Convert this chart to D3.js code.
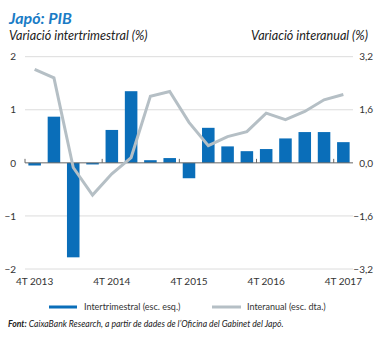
<!DOCTYPE html>
<html>
<head>
<meta charset="utf-8">
<script src="https://cdn.jsdelivr.net/npm/d3@7"></script>
<style>
  body { margin: 0; background: #fff; }
  svg { display: block; font-family: Lato, "Open Sans", sans-serif; }
</style>
</head>
<body>
<div id="chart"></div>
<script>
// Quarters (4T = fourth quarter)
const quarters = [
    '4T 2013', '1T 2014', '2T 2014', '3T 2014',
    '4T 2014', '1T 2015', '2T 2015', '3T 2015',
    '4T 2015', '1T 2016', '2T 2016', '3T 2016',
    '4T 2016', '1T 2017', '2T 2017', '3T 2017', '4T 2017'
];
// quarter-on-quarter change (%), left scale
const intertrimestral = [
    -0.05, 0.87, -1.78, -0.03, 0.62, 1.35, 0.05, 0.09,
    -0.29, 0.66, 0.31, 0.22, 0.26, 0.46, 0.58, 0.58, 0.39
];
// year-on-year change (%), right scale
const interanual = [
    2.82, 2.56, -0.14, -0.97, -0.33, 0.16, 2.01, 2.15,
    1.22, 0.52, 0.79, 0.94, 1.50, 1.30, 1.55, 1.90, 2.06
];
const leftTicks = [-2, -1, 0, 1, 2];
const rightTicks = [-3.2, -1.6, 0, 1.6, 3.2];
const xTickLabels = ['4T 2013', '4T 2014', '4T 2015', '4T 2016', '4T 2017'];

const width = 381;
const height = 338;
const blue = '#0a6eb9';
const grey = '#b5bfc5';
const fmt = d3.format('.1f');

const svg = d3.select('#chart')
  .append('svg')
    .attr('width', width)
    .attr('height', height);

const xScale = d3.scaleBand()
    .domain(quarters)
    .range([25, 353])
    .paddingInner(0.35)
    .paddingOuter(0.175);

const yLeft = d3.scaleLinear()
    .domain([-2, 2])
    .range([269, 56.7]);

const yRight = d3.scaleLinear()
    .domain([-3.2, 3.2])
    .range([269, 56.7]);

// titles
svg.append('text')
    .attr('x', 9).attr('y', 24)
    .attr('fill', '#1a7cc6')
    .style('font-size', '16px')
    .style('font-weight', 'bold')
    .style('font-style', 'italic')
    .text('Japó: PIB');

svg.append('text')
    .attr('x', 9).attr('y', 40)
    .attr('fill', '#222')
    .style('font-size', '12.6px')
    .style('font-style', 'italic')
    .text('Variació intertrimestral (%)');

svg.append('text')
    .attr('x', 368).attr('y', 40)
    .attr('text-anchor', 'end')
    .attr('fill', '#222')
    .style('font-size', '12.6px')
    .style('font-style', 'italic')
    .text('Variació interanual (%)');

// gridlines
const grid = svg.append('g').attr('class', 'grid');
grid.selectAll('line')
    .data(leftTicks.filter(d => d !== 0))
  .enter().append('line')
    .attr('x1', 25).attr('x2', 353)
    .attr('y1', d => yLeft(d)).attr('y2', d => yLeft(d))
    .attr('stroke', '#dcdcdc')
    .attr('stroke-width', 1);

// left axis labels
const leftAxis = d3.axisLeft(yLeft).tickValues(leftTicks).tickSize(0).tickPadding(0)
    .tickFormat(d3.format('d'));
svg.append('g')
    .attr('transform', 'translate(16,0)')
    .call(leftAxis)
    .call(g => g.select('.domain').remove())
    .call(g => g.selectAll('text')
        .attr('fill', '#333')
        .style('font-size', '10px')
        .style('font-family', 'Lato, sans-serif'));

// right axis labels
const rightAxis = d3.axisRight(yRight).tickValues(rightTicks).tickSize(0).tickPadding(0)
    .tickFormat(d => fmt(d).replace('.', ','));
svg.append('g')
    .attr('transform', 'translate(373,0)')
    .call(rightAxis)
    .call(g => g.select('.domain').remove())
    .call(g => g.selectAll('text')
        .attr('text-anchor', 'end')
        .attr('fill', '#333')
        .style('font-size', '10px')
        .style('font-family', 'Lato, sans-serif'));

// bars
svg.append('g').selectAll('rect')
    .data(quarters.map((q, i) => ({q, v: intertrimestral[i]})))
  .enter().append('rect')
    .attr('x', d => xScale(d.q))
    .attr('width', xScale.bandwidth())
    .attr('y', d => yLeft(Math.max(0, d.v)))
    .attr('height', d => Math.abs(yLeft(d.v) - yLeft(0)))
    .attr('fill', blue);

// zero axis with ticks at band boundaries
const gap = (xScale.step() - xScale.bandwidth()) / 2;
const xAxis = d3.axisTop(xScale).tickValues(xTickLabels).tickSize(4).tickFormat('');
svg.append('g')
    .attr('transform', `translate(0,${yLeft(0)})`)
    .call(xAxis)
    .call(g => g.select('.domain')
        .attr('d', 'M25,0H353')
        .attr('stroke', '#666'))
    .call(g => g.selectAll('.tick')
        .attr('transform', d => `translate(${xScale(d) - gap},0)`))
    .call(g => g.selectAll('.tick line').attr('stroke', '#666'));

// interanual line
const line = d3.line()
    .x((d, i) => xScale(quarters[i]) + xScale.bandwidth() / 2)
    .y(d => yRight(d));
svg.append('path')
    .datum(interanual)
    .attr('d', line)
    .attr('fill', 'none')
    .attr('stroke', grey)
    .attr('stroke-width', 3)
    .attr('stroke-linejoin', 'miter');

// x labels
svg.append('g').selectAll('text')
    .data(xTickLabels)
  .enter().append('text')
    .attr('x', d => xScale(d) + xScale.bandwidth() / 2)
    .attr('y', 285)
    .attr('text-anchor', 'middle')
    .attr('fill', '#333')
    .style('font-size', '10px')
    .text(d => d);

// legend
const legend = svg.append('g').style('font-size', '9px');
legend.append('rect')
    .attr('x', 49).attr('y', 305.5).attr('width', 28).attr('height', 3)
    .attr('fill', blue);
legend.append('text')
    .attr('x', 84).attr('y', 310)
    .attr('fill', '#333')
    .text('Intertrimestral (esc. esq.)');
legend.append('rect')
    .attr('x', 212).attr('y', 305.5).attr('width', 29).attr('height', 3)
    .attr('fill', grey);
legend.append('text')
    .attr('x', 247).attr('y', 310)
    .attr('fill', '#333')
    .text('Interanual (esc. dta.)');

// source
const source = svg.append('text')
    .attr('x', 8).attr('y', 327)
    .attr('fill', '#222')
    .style('font-size', '8.65px')
    .style('font-style', 'italic');
source.append('tspan').style('font-weight', 'bold').text('Font:');
source.append('tspan').text(' CaixaBank Research, a partir de dades de l’Oficina del Gabinet del Japó.');
</script>
</body>
</html>
